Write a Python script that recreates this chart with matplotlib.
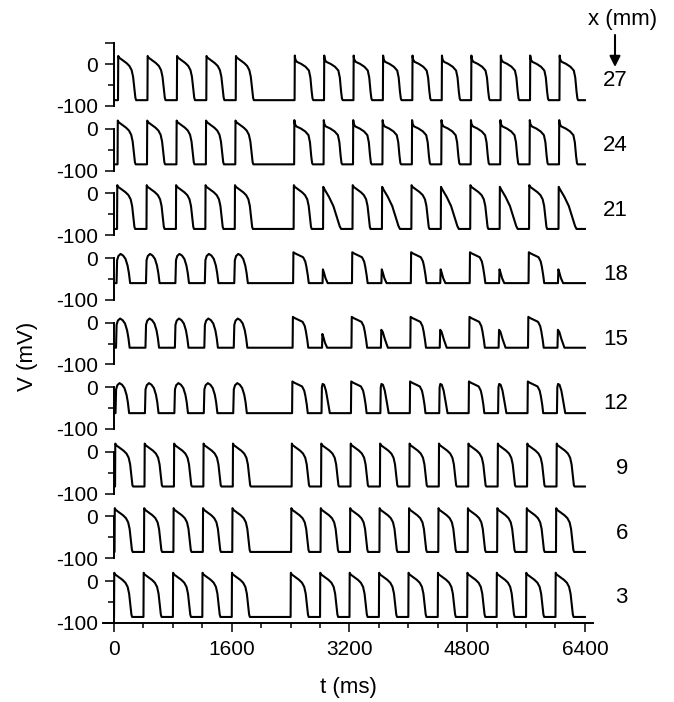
import matplotlib.pyplot as plt
from matplotlib.ticker import FixedLocator, FixedFormatter

plt.rcParams['font.family'] = ['Liberation Sans', 'DejaVu Sans']
plt.rcParams['axes.unicode_minus'] = False

# recording sites along the cable (mm), top to bottom
positions = [27, 24, 21, 18, 15, 12, 9, 6, 3]
# conduction delay at each site (ms) and resting potential (mV)
delays = [54, 48, 41, 34, 27, 20, 14, 7, 0]
rest_mv = [-86, -85, -85, -60, -60, -62, -83, -85, -86]

# pacing: 5 beats, pause, 10 beats
stim_times = [0, 400, 800, 1200, 1600,
              2400, 2800, 3200, 3600, 4000, 4400, 4800, 5200, 5600, 6000]

# response type of each beat at each site
beat_kinds = {
    27: "PPPPPNNNNNNNNNN",
    24: "PPPPPNNNNNNNNNN",
    21: "PPPPPPRPRPRPRPR",
    18: "DDDDDBSBSBSBSBS",
    15: "DDDDDBSBsBsBsBs",
    12: "DDDDDBWBWBWBWBW",
    9: "PPPPPPPPPPPPPPP",
    6: "PPPPPPPPPPPPPPP",
    3: "PPPPPPPPPPPPPPP",
}

# action potential shapes: (ms after upstroke, mV); None = back to rest
ap_shapes = {
    'P': [(3, 20), (15, 16), (60, 10), (115, 3), (155, -4), (185, -14),
          (205, -30), (222, -58), (236, -80), (246, None)],
    'N': [(3, 21), (10, 12), (30, 6), (90, 1), (150, -6), (195, -15),
          (215, -32), (232, -65), (244, -82), (254, None)],
    'R': [(3, 16), (20, 10), (80, -8), (140, -30), (190, -58),
          (225, -78), (245, None)],
    'D': [(8, -5), (25, 5), (55, 10), (90, 6), (122, -2), (150, -18),
          (168, -36), (185, None)],
    'B': [(4, 14), (30, 11), (90, 6), (136, 2), (165, -8), (181, -21),
          (200, -42), (213, None)],
    'S': [(5, -27), (18, -34), (40, -48), (70, None)],
    's': [(6, -17), (25, -22), (55, -40), (95, None)],
    'W': [(5, 0), (15, 8), (35, 6), (60, -8), (90, -38), (113, None)],
}


def build_trace(delay, rest, kinds):
    t = [0.0]
    v = [rest]
    for onset, kind in zip(stim_times, kinds):
        start = onset + delay
        t.append(start)
        v.append(rest)
        for dt, mv in ap_shapes[kind]:
            t.append(start + dt)
            v.append(rest if mv is None else mv)
    t.append(6400)
    v.append(rest)
    return t, v


W, H = 674, 702
fig = plt.figure(figsize=(W / 100, H / 100), dpi=100)

mv_px = 0.417          # vertical pixels per mV
x_left, x_right = 103, 593

for i, pos in enumerate(positions):
    lo, hi = -125, (55 if i == 0 else 29)
    y0 = 64.3 + 64.6 * i
    bottom_px = y0 - lo * mv_px
    ax = fig.add_axes([x_left / W, 1 - bottom_px / H,
                       (x_right - x_left) / W, (hi - lo) * mv_px / H])
    ax.patch.set_alpha(0)
    ax.set_xlim(-150, 6510)
    ax.set_ylim(lo, hi)

    t, v = build_trace(delays[i], rest_mv[i], beat_kinds[pos])
    ax.plot(t, v, color='black', lw=1.5, solid_joinstyle='round')

    for side in ['top', 'right']:
        ax.spines[side].set_visible(False)
    ax.spines['left'].set_position(('data', 0))
    ax.spines['left'].set_linewidth(1.4)
    ax.spines['left'].set_bounds(-100, 50 if i == 0 else 0)

    if i == 0:
        ax.yaxis.set_major_locator(FixedLocator([-100, 0, 50]))
        ax.yaxis.set_major_formatter(FixedFormatter(['-100', '0', '']))
    else:
        ax.yaxis.set_major_locator(FixedLocator([-100, 0]))
        ax.yaxis.set_major_formatter(FixedFormatter(['-100', '0']))
    ax.yaxis.set_minor_locator(FixedLocator([-50]))
    ax.tick_params(axis='y', which='major', length=6.5, width=1.1,
                   labelsize=15, pad=5)
    ax.tick_params(axis='y', which='minor', length=4.3, width=1.1)

    if i == len(positions) - 1:
        ax.spines['bottom'].set_position(('data', -100))
        ax.spines['bottom'].set_linewidth(1.4)
        ax.xaxis.set_major_locator(FixedLocator([0, 1600, 3200, 4800, 6400]))
        ax.xaxis.set_minor_locator(FixedLocator(
            [400, 800, 1200, 2000, 2400, 2800, 3600, 4000, 4400,
             5200, 5600, 6000]))
        ax.tick_params(axis='x', which='major', length=6.5, width=1.1,
                       labelsize=15, pad=6)
        ax.tick_params(axis='x', which='minor', length=3.6, width=1.1)
    else:
        ax.spines['bottom'].set_visible(False)
        ax.set_xticks([])

    ax.text(6985, -40, str(pos), ha='right', va='center', fontsize=16,
            clip_on=False)

fig.text(28 / W, 1 - 356 / H, 'V (mV)', rotation=90, ha='center',
         va='center', fontsize=16)
fig.text(348 / W, 1 - 688 / H, 't (ms)', ha='center', va='center',
         fontsize=16)
fig.text(623 / W, 1 - 20 / H, 'x (mm)', ha='center', va='center',
         fontsize=16)
fig.add_artist(plt.Annotation(
    '', xy=(615 / W, 1 - 67 / H), xytext=(615 / W, 1 - 35 / H),
    xycoords='figure fraction',
    arrowprops=dict(arrowstyle='-|>', color='black', lw=1.5,
                    mutation_scale=16, shrinkA=0, shrinkB=0)))

fig.savefig('out.png', dpi=100)
